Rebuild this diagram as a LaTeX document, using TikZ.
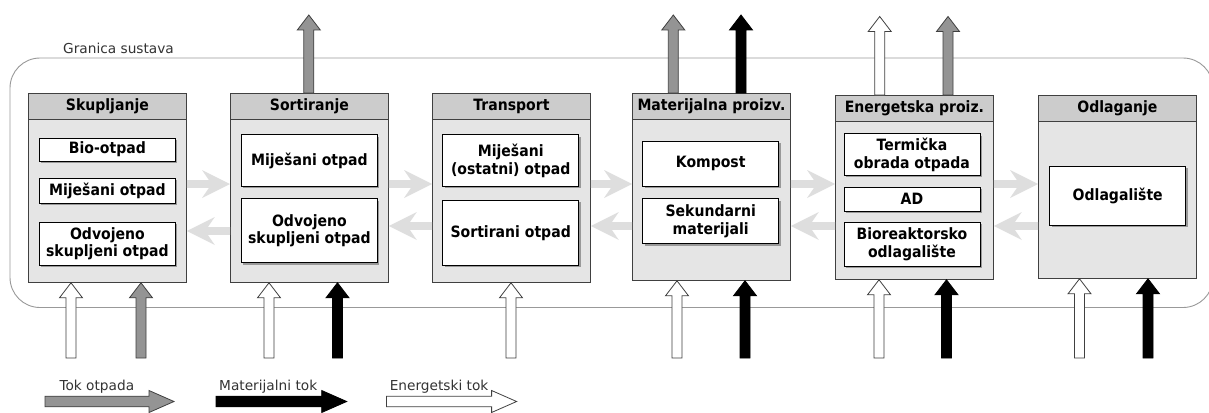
\documentclass[tikz,border=0pt]{standalone}
\usepackage{fontspec}
\setmainfont{DejaVu Sans}[BoldFeatures={FakeStretch=0.9}]
\usetikzlibrary{calc}
\definecolor{hdr}{gray}{0.80}
\definecolor{bodyc}{gray}{0.90}
\definecolor{flow}{gray}{0.87}
\definecolor{wastegrey}{gray}{0.58}
\definecolor{edgec}{gray}{0.25}
\definecolor{bound}{gray}{0.60}
\newcommand{\bfhead}{\fontsize{15.6}{17.7}\selectfont\bfseries}
\newcommand{\lblfont}{\fontsize{13.7}{16}\selectfont}
% vertical block arrow: #1 base, #2 tip, #3 style
\newcommand{\vblock}[3]{\filldraw[#3] let \p1=(#1), \p2=(#2) in
  ({\x2-5pt},\y1) -- ({\x2-5pt},{\y2-15pt}) -- ({\x2-11.5pt},{\y2-15pt}) -- (\x2,\y2)
  -- ({\x2+11.5pt},{\y2-15pt}) -- ({\x2+5pt},{\y2-15pt}) -- ({\x2+5pt},\y1) -- cycle;}
% light horizontal flow arrow: #1 tail, #2 tip, #3 direction (+1/-1)
\newcommand{\hblock}[3]{\fill[flow] let \p1=(#1), \p2=(#2) in
  (\x1,{\y2+3.8pt}) -- ({\x2-(#3)*21pt},{\y2+3.8pt}) -- ({\x2-(#3)*28pt},{\y2+14pt}) -- (\x2,\y2)
  -- ({\x2-(#3)*28pt},{\y2-14pt}) -- ({\x2-(#3)*21pt},{\y2-3.8pt}) -- (\x1,{\y2-3.8pt}) -- cycle;}
% legend arrow: #1 tail, #2 tip, #3 style
\newcommand{\rblock}[3]{\filldraw[#3] let \p1=(#1), \p2=(#2) in
  (\x1,{\y2+5.3pt}) -- ({\x2-25pt},{\y2+5.3pt}) -- ({\x2-25pt},{\y2+11pt}) -- (\x2,\y2)
  -- ({\x2-25pt},{\y2-11pt}) -- ({\x2-25pt},{\y2-5.3pt}) -- (\x1,{\y2-5.3pt}) -- cycle;}
\begin{document}
\begin{tikzpicture}[x=1pt,y=-1pt,
  outerbox/.style={draw=edgec, line width=0.8pt, fill=bodyc, anchor=north west,
    minimum width=158pt, inner sep=0pt},
  hdrbox/.style={draw=edgec, line width=0.8pt, fill=hdr, anchor=north west,
    minimum width=158pt, minimum height=25.6pt, inner sep=0pt, font=\bfhead},
  innerbox/.style={draw=black, line width=0.8pt, fill=white, anchor=north west,
    minimum width=136pt, inner sep=0pt, align=center, font=\bfhead,
    preaction={fill=black!40, transform canvas={xshift=1.8pt, yshift=-1.8pt}}},
  lbl/.style={inner sep=0pt, anchor=base west, font=\lblfont, text=black!80},
  wastearrow/.style={fill=wastegrey, draw=edgec, line width=0.8pt},
  matarrow/.style={fill=black, draw=black, line width=0.8pt},
  enarrow/.style={fill=white, draw=edgec, line width=0.8pt},
  boundline/.style={draw=bound, line width=0.9pt}
]
\clip (0,0) rectangle (1209,412);
\fill[white] (0,0) rectangle (1209,412);

% system boundary
\draw[boundline, rounded corners=30pt] (10,58) rectangle (1213,307.5);
\node[lbl] (gs) at (63,53.3) {Granica sustava};

% main boxes
\node[outerbox, minimum height=189pt] (sk) at (28,93) {};
\node[hdrbox] (skh) at (28,93) {Skupljanje};
\node[outerbox, minimum height=189pt] (so) at (230,93) {};
\node[hdrbox] (soh) at (230,93) {Sortiranje};
\node[outerbox, minimum height=189pt] (tr) at (432,93) {};
\node[hdrbox] (trh) at (432,93) {Transport};
\node[outerbox, minimum height=187pt] (mp) at (632,93) {};
\node[hdrbox] (mph) at (632,93) {Materijalna proizv.};
\node[outerbox, minimum height=184pt] (ep) at (835,95) {};
\node[hdrbox] (eph) at (835,95) {Energetska proiz.};
\node[outerbox, minimum height=183pt] (od) at (1038,95) {};
\node[hdrbox] (odh) at (1038,95) {Odlaganje};

% inner boxes
\node[innerbox, minimum height=23pt] (sk1) at (39,137.7) {Bio-otpad};
\node[innerbox, minimum height=25pt] (sk2) at (39,178) {Miješani otpad};
\node[innerbox, minimum height=43.3pt] (sk3) at (39,221.7) {Odvojeno\\skupljeni otpad};
\node[innerbox, minimum height=51.7pt] (so1) at (241,134.3) {Miješani otpad};
\node[innerbox, minimum height=64pt] (so2) at (241,198.3) {Odvojeno\\skupljeni otpad};
\node[innerbox, minimum height=51.7pt] (tr1) at (442.3,134.3) {Miješani\\(ostatni) otpad};
\node[innerbox, minimum height=65pt] (tr2) at (442.3,200) {Sortirani otpad};
\node[innerbox, minimum height=45pt] (mp1) at (642.3,141) {Kompost};
\node[innerbox, minimum height=45pt] (mp2) at (642.3,198.3) {Sekundarni\\materijali};
\node[innerbox, minimum height=41.7pt] (ep1) at (843.5,133.3) {Termička\\obrada otpada};
\node[innerbox, minimum height=24.3pt] (ep2) at (843.5,186.7) {AD};
\node[innerbox, minimum height=44pt] (ep3) at (843.5,221.7) {Bioreaktorsko\\odlagalište};
\node[innerbox, minimum height=59pt] (od1) at (1049.3,166) {Odlagalište};

% flows between boxes
\hblock{sk.east |- 0,184}{so.west |- 0,184}{1}
\hblock{so.west |- 0,231}{sk.east |- 0,231}{-1}
\hblock{so.east |- 0,184}{tr.west |- 0,184}{1}
\hblock{tr.west |- 0,226}{so.east |- 0,226}{-1}
\hblock{tr.east |- 0,184}{mp.west |- 0,184}{1}
\hblock{mp.west |- 0,226}{tr.east |- 0,226}{-1}
\hblock{mp.east |- 0,184}{ep.west |- 0,184}{1}
\hblock{ep.west |- 0,226}{mp.east |- 0,226}{-1}
\hblock{ep.east |- 0,184}{od.west |- 0,184}{1}
\hblock{od.west |- 0,226}{ep.east |- 0,226}{-1}

% outgoing arrows (top)
\vblock{308.8,0 |- so.north}{308.8,15}{wastearrow}
\vblock{673.3,0 |- mp.north}{673.3,15}{wastearrow}
\vblock{741,0 |- mp.north}{741,15}{matarrow}
\vblock{879.7,0 |- ep.north}{879.7,16.5}{enarrow}
\vblock{948,0 |- ep.north}{948,16.5}{wastearrow}

% incoming arrows (bottom)
\vblock{71,358}{71,0 |- sk.south}{enarrow}
\vblock{141,358}{141,0 |- sk.south}{wastearrow}
\vblock{269,358}{269,0 |- so.south}{enarrow}
\vblock{337.5,358}{337.5,0 |- so.south}{matarrow}
\vblock{511,358}{511,0 |- tr.south}{enarrow}
\vblock{677,358}{677,0 |- mp.south}{enarrow}
\vblock{745,358}{745,0 |- mp.south}{matarrow}
\vblock{879,358}{879,0 |- ep.south}{enarrow}
\vblock{946.5,358}{946.5,0 |- ep.south}{matarrow}
\vblock{1079.5,358}{1079.5,0 |- od.south}{enarrow}
\vblock{1148,358}{1148,0 |- od.south}{matarrow}

% legend
\node[lbl] (lg1) at (59.3,390.7) {Tok otpada};
\node[lbl] (lg2) at (219,390.7) {Materijalni tok};
\node[lbl] (lg3) at (389.6,390.7) {Energetski tok};
\rblock{45,401.5}{174,401.5}{wastearrow}
\rblock{216,401.5}{346.7,401.5}{matarrow}
\rblock{386.5,401.5}{516.6,401.5}{enarrow}
\end{tikzpicture}
\end{document}
